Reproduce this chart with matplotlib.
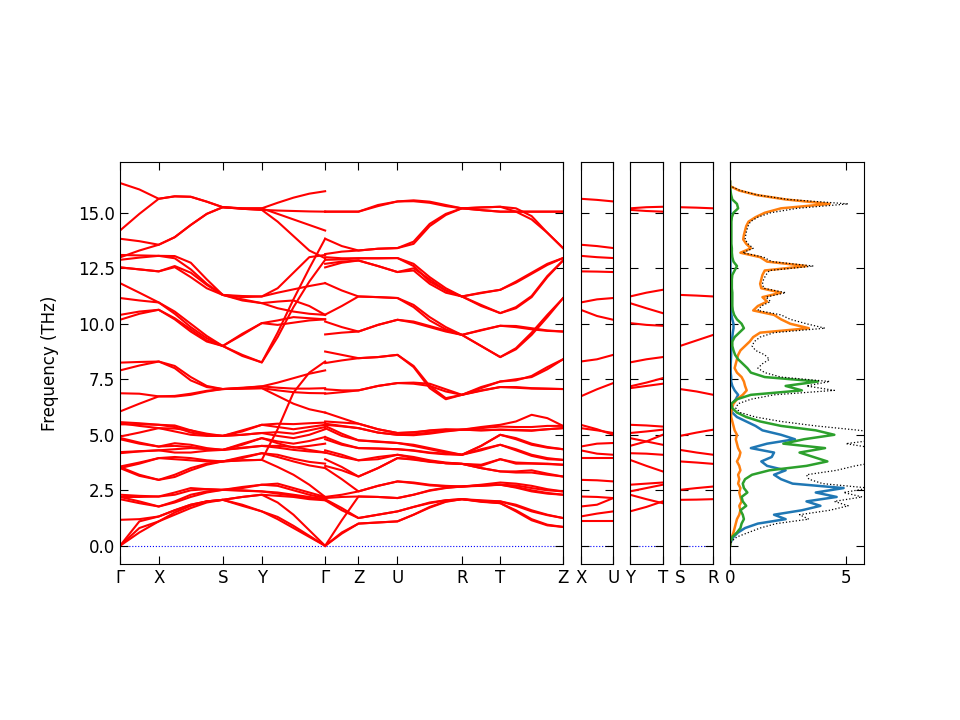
import numpy as np
import matplotlib
matplotlib.use("Agg")
import matplotlib.pyplot as plt
from matplotlib.ticker import MultipleLocator

# ---------------- path definition ----------------
MAIN_LABELS = ["Γ", "X", "S", "Y", "Γ", "Z", "U", "R", "T", "Z"]
LEFT_SEG_LENGTHS = [0.387, 0.640, 0.390, 0.633]          # Γ-X, X-S, S-Y, Y-Γ
LEFT_SEG_SAMPLES = [3, 5, 3, 5]
RIGHT_SEG_LENGTHS = [0.333, 0.390, 0.644, 0.383, 0.627]  # Γ-Z, Z-U, U-R, R-T, T-Z
RIGHT_SEG_SAMPLES = [3, 3, 5, 3, 5]
SMALL_PANELS = [("X", "U"), ("Y", "T"), ("S", "R")]
SMALL_LENGTH = 0.326

# ---------------- band frequencies (THz) ----------------
# Γ - X - S - Y - Γ  (13 samples)
BANDS_LEFT = [
    [16.34, 16.05, 15.63, 15.74, 15.72, 15.50, 15.25, 15.20, 15.20, 15.45, 15.68, 15.86, 15.97],
    [14.20, 14.95, 15.63, 15.74, 15.72, 15.50, 15.25, 15.18, 15.13, 15.10, 15.08, 15.06, 15.05],
    [13.83, 13.72, 13.56, 13.90, 14.45, 14.95, 15.25, 15.20, 15.20, 14.95, 14.70, 14.45, 14.20],
    [12.99, 13.30, 13.56, 13.90, 14.45, 14.95, 15.25, 15.18, 15.13, 14.60, 13.95, 13.30, 12.95],
    [13.10, 13.08, 13.06, 13.05, 12.75, 12.00, 11.30, 11.25, 11.23, 11.40, 11.55, 11.70, 11.83],
    [12.88, 12.98, 13.06, 12.95, 12.45, 11.80, 11.30, 11.20, 11.23, 11.60, 12.30, 13.00, 13.10],
    [12.54, 12.45, 12.36, 12.60, 12.30, 11.75, 11.30, 11.05, 10.93, 11.00, 11.05, 10.80, 10.40],
    [12.54, 12.45, 12.36, 12.55, 12.10, 11.60, 11.30, 11.10, 10.93, 10.70, 10.55, 10.45, 10.40],
    [11.83, 11.40, 10.96, 10.55, 10.00, 9.45, 9.00, 9.55, 10.03, 10.15, 10.30, 10.25, 10.20],
    [11.16, 11.05, 10.96, 10.45, 9.85, 9.35, 9.00, 9.50, 10.03, 9.95, 10.05, 10.15, 10.20],
    [10.40, 10.55, 10.63, 10.20, 9.65, 9.20, 9.00, 8.55, 8.26, 9.40, 10.75, 11.90, 12.88],
    [10.18, 10.45, 10.63, 10.25, 9.75, 9.25, 9.00, 8.60, 8.26, 9.60, 11.10, 12.50, 13.83],
    [8.25, 8.28, 8.30, 8.10, 7.60, 7.20, 7.06, 7.12, 7.18, 7.35, 7.55, 7.75, 7.90],
    [7.90, 8.12, 8.30, 8.00, 7.45, 7.15, 7.06, 7.10, 7.18, 7.12, 7.08, 7.08, 7.10],
    [6.87, 6.85, 6.73, 6.72, 6.80, 6.95, 7.06, 7.08, 7.10, 7.00, 6.92, 6.88, 6.87],
    [6.05, 6.40, 6.73, 6.75, 6.85, 6.98, 7.06, 7.08, 7.10, 6.75, 6.40, 6.15, 6.00],
    [5.57, 5.52, 5.45, 5.42, 5.20, 5.00, 4.95, 5.20, 5.45, 5.50, 5.48, 5.52, 5.55],
    [5.47, 5.47, 5.45, 5.35, 5.10, 4.98, 4.95, 5.15, 5.45, 5.35, 5.25, 5.35, 5.45],
    [5.52, 5.40, 5.30, 5.28, 5.20, 5.05, 4.95, 5.00, 5.08, 5.12, 5.05, 5.20, 5.35],
    [4.92, 5.10, 5.30, 5.15, 5.00, 4.95, 4.95, 5.00, 5.08, 4.95, 4.85, 5.00, 5.25],
    [4.80, 4.60, 4.47, 4.62, 4.55, 4.40, 4.32, 4.60, 4.85, 4.70, 4.60, 4.72, 4.90],
    [4.86, 4.65, 4.47, 4.50, 4.45, 4.35, 4.32, 4.55, 4.85, 4.62, 4.42, 4.50, 4.60],
    [4.17, 4.25, 4.30, 4.35, 4.40, 4.35, 4.32, 4.42, 4.50, 4.42, 4.32, 4.25, 4.20],
    [4.22, 4.26, 4.30, 4.20, 4.20, 4.28, 4.32, 4.40, 4.50, 4.50, 4.45, 4.32, 4.20],
    [3.57, 3.75, 3.95, 4.00, 3.95, 3.85, 3.80, 4.00, 4.17, 4.10, 3.92, 3.78, 3.70],
    [3.50, 3.70, 3.95, 3.90, 3.85, 3.80, 3.80, 3.95, 4.17, 4.00, 3.80, 3.62, 3.50],
    [3.55, 3.20, 2.97, 3.20, 3.50, 3.70, 3.80, 3.85, 3.87, 5.25, 6.90, 7.80, 8.30],
    [3.50, 3.15, 2.97, 3.10, 3.40, 3.65, 3.80, 3.85, 3.87, 3.55, 3.20, 2.75, 2.20],
    [2.30, 2.25, 2.22, 2.40, 2.60, 2.55, 2.52, 2.65, 2.75, 2.80, 2.60, 2.40, 2.20],
    [2.20, 2.20, 2.22, 2.30, 2.50, 2.55, 2.52, 2.60, 2.75, 2.70, 2.50, 2.30, 2.15],
    [2.20, 2.00, 1.77, 2.00, 2.30, 2.45, 2.52, 2.50, 2.45, 2.40, 2.30, 2.20, 2.10],
    [2.10, 1.92, 1.77, 1.95, 2.20, 2.40, 2.52, 2.48, 2.45, 2.35, 2.25, 2.15, 2.10],
    [1.17, 1.20, 1.32, 1.60, 1.85, 2.00, 2.07, 2.20, 2.30, 2.25, 2.20, 2.10, 2.05],
    [0.00, 1.10, 1.32, 1.60, 1.85, 2.00, 2.07, 2.20, 2.30, 1.95, 1.40, 0.70, 0.00],
    [0.00, 0.80, 1.10, 1.40, 1.70, 1.95, 2.07, 1.85, 1.55, 1.30, 0.90, 0.45, 0.00],
    [0.00, 0.60, 1.10, 1.50, 1.80, 2.00, 2.07, 1.80, 1.55, 1.20, 0.80, 0.40, 0.00],
]

# Γ - Z - U - R - T - Z  (15 samples)
BANDS_RIGHT = [
    [15.05, 15.05, 15.05, 15.35, 15.51, 15.56, 15.50, 15.35, 15.20, 15.24, 15.27, 15.05, 14.70, 14.10, 13.41],
    [15.05, 15.05, 15.05, 15.30, 15.51, 15.52, 15.45, 15.30, 15.20, 15.12, 15.05, 15.05, 15.05, 15.05, 15.05],
    [13.83, 13.50, 13.30, 13.38, 13.41, 13.70, 14.50, 14.95, 15.20, 15.24, 15.27, 15.20, 14.85, 14.10, 13.41],
    [13.14, 13.25, 13.30, 13.38, 13.41, 13.60, 14.40, 14.90, 15.20, 15.12, 15.05, 15.05, 15.05, 15.05, 15.05],
    [13.00, 12.95, 12.95, 12.95, 12.96, 12.70, 12.10, 11.60, 11.23, 11.38, 11.53, 11.85, 12.25, 12.65, 12.96],
    [12.88, 12.90, 12.95, 12.95, 12.96, 12.60, 11.90, 11.50, 11.23, 10.80, 10.48, 10.70, 11.20, 12.10, 12.85],
    [12.54, 12.75, 12.85, 12.60, 12.33, 12.50, 12.00, 11.50, 11.23, 10.85, 10.48, 10.75, 11.25, 12.15, 12.85],
    [12.70, 12.80, 12.85, 12.60, 12.33, 12.40, 11.80, 11.40, 11.23, 11.40, 11.53, 11.90, 12.30, 12.70, 12.96],
    [11.83, 11.50, 11.23, 11.20, 11.16, 10.85, 10.30, 9.85, 9.50, 9.00, 8.50, 8.85, 9.50, 10.30, 11.15],
    [10.41, 10.80, 11.23, 11.20, 11.16, 10.75, 10.15, 9.75, 9.50, 9.00, 8.50, 8.90, 9.60, 10.40, 11.15],
    [10.10, 9.85, 9.65, 9.95, 10.18, 10.05, 9.85, 9.65, 9.50, 9.70, 9.91, 9.85, 9.75, 9.68, 9.65],
    [9.52, 9.60, 9.65, 9.95, 10.18, 10.10, 9.90, 9.70, 9.50, 9.72, 9.91, 9.90, 9.80, 9.70, 9.65],
    [8.75, 8.60, 8.45, 8.50, 8.60, 8.10, 7.20, 6.65, 6.80, 7.10, 7.40, 7.50, 7.60, 7.95, 8.40],
    [8.23, 8.35, 8.45, 8.50, 8.60, 8.05, 7.10, 6.60, 6.80, 7.15, 7.40, 7.45, 7.65, 8.05, 8.40],
    [7.05, 7.00, 7.00, 7.20, 7.33, 7.35, 7.30, 7.05, 6.80, 7.00, 7.15, 7.12, 7.08, 7.07, 7.06],
    [6.85, 6.92, 7.00, 7.20, 7.33, 7.30, 7.20, 6.95, 6.80, 6.98, 7.15, 7.15, 7.10, 7.08, 7.06],
    [6.00, 5.75, 5.50, 5.25, 5.08, 5.10, 5.20, 5.25, 5.23, 5.35, 5.45, 5.60, 5.90, 5.75, 5.40],
    [5.60, 5.55, 5.50, 5.25, 5.08, 5.12, 5.18, 5.22, 5.23, 5.30, 5.37, 5.35, 5.35, 5.40, 5.40],
    [5.50, 5.40, 5.30, 5.10, 5.00, 4.98, 5.05, 5.15, 5.23, 5.20, 5.23, 5.20, 5.18, 5.25, 5.30],
    [5.45, 5.38, 5.30, 5.10, 5.00, 5.02, 5.10, 5.18, 5.23, 5.20, 5.23, 5.22, 5.20, 5.25, 5.30],
    [5.40, 5.05, 4.75, 4.70, 4.63, 4.55, 4.40, 4.25, 4.10, 4.50, 5.00, 4.85, 4.60, 4.45, 4.35],
    [5.30, 4.95, 4.75, 4.68, 4.63, 4.50, 4.35, 4.20, 4.10, 4.50, 5.00, 4.80, 4.55, 4.42, 4.35],
    [4.90, 4.60, 4.40, 4.38, 4.35, 4.30, 4.20, 4.15, 4.10, 4.30, 4.55, 4.30, 4.05, 3.90, 3.87],
    [4.80, 4.55, 4.40, 4.38, 4.35, 4.28, 4.18, 4.12, 4.10, 4.35, 4.55, 4.35, 4.10, 3.95, 3.87],
    [4.30, 4.10, 3.85, 4.00, 4.10, 4.00, 3.85, 3.75, 3.69, 3.60, 3.90, 3.70, 3.70, 3.68, 3.65],
    [4.20, 4.00, 3.85, 3.90, 4.10, 3.95, 3.82, 3.72, 3.69, 3.65, 3.90, 3.75, 3.72, 3.70, 3.65],
    [3.90, 3.55, 3.12, 3.50, 3.95, 3.90, 3.80, 3.72, 3.69, 3.50, 3.35, 3.35, 3.40, 3.25, 3.12],
    [3.60, 3.40, 3.12, 3.50, 3.95, 3.88, 3.78, 3.72, 3.69, 3.50, 3.35, 3.30, 3.30, 3.20, 3.12],
    [3.50, 3.00, 2.45, 2.70, 2.90, 2.85, 2.75, 2.70, 2.67, 2.75, 2.85, 2.80, 2.70, 2.55, 2.45],
    [2.20, 2.30, 2.45, 2.70, 2.90, 2.82, 2.72, 2.68, 2.67, 2.72, 2.75, 2.72, 2.60, 2.50, 2.45],
    [2.15, 2.20, 2.22, 2.20, 2.15, 2.30, 2.50, 2.62, 2.67, 2.72, 2.75, 2.65, 2.50, 2.38, 2.30],
    [2.10, 1.70, 1.25, 1.40, 1.55, 1.75, 1.92, 2.05, 2.10, 2.02, 2.00, 1.80, 1.55, 1.38, 1.25],
    [2.05, 1.60, 1.25, 1.40, 1.55, 1.75, 1.95, 2.05, 2.10, 2.05, 2.00, 1.85, 1.60, 1.40, 1.25],
    [0.00, 1.15, 2.22, 2.20, 2.15, 2.30, 2.48, 2.60, 2.67, 2.70, 2.75, 2.62, 2.45, 2.35, 2.30],
    [0.00, 0.60, 1.00, 1.05, 1.10, 1.40, 1.75, 2.00, 2.10, 2.00, 1.92, 1.60, 1.20, 0.95, 0.85],
    [0.00, 0.55, 1.00, 1.05, 1.10, 1.40, 1.72, 1.98, 2.10, 1.98, 1.92, 1.55, 1.15, 0.92, 0.85],
]

# X - U (start, middle, end)
BANDS_XU = [
    [15.63, 15.58, 15.51], [13.56, 13.50, 13.41], [13.06, 13.00, 12.96], [12.36, 12.35, 12.33],
    [10.96, 11.10, 11.16], [10.63, 10.35, 10.18], [8.30, 8.40, 8.60], [6.73, 7.05, 7.33],
    [5.45, 5.25, 5.00], [5.30, 5.20, 5.08], [4.47, 4.60, 4.63], [4.30, 4.15, 4.10],
    [3.95, 3.95, 3.95], [2.97, 2.95, 2.90], [2.22, 2.20, 2.15], [1.77, 1.85, 2.15],
    [1.32, 1.45, 1.55], [1.10, 1.10, 1.10],
]
# Y - T
BANDS_YT = [
    [15.20, 15.25, 15.27], [15.13, 15.08, 15.05], [11.23, 11.40, 11.53], [10.93, 10.70, 10.48],
    [10.03, 9.95, 9.91], [8.26, 8.40, 8.50], [7.18, 7.35, 7.55], [7.10, 7.20, 7.30],
    [5.45, 5.42, 5.37], [5.08, 5.15, 5.23], [4.85, 4.70, 4.55], [4.50, 4.70, 5.00],
    [4.17, 4.15, 4.10], [3.87, 3.60, 3.35], [2.75, 2.80, 2.85], [2.45, 2.60, 2.75],
    [2.30, 2.10, 1.92], [1.55, 1.75, 2.00],
]
# S - R
BANDS_SR = [
    [15.25, 15.23, 15.20], [11.30, 11.27, 11.23], [9.00, 9.25, 9.50], [7.06, 6.95, 6.80],
    [4.95, 5.10, 5.23], [4.32, 4.20, 4.10], [3.80, 3.75, 3.69], [2.52, 2.60, 2.67],
    [2.07, 2.08, 2.10],
]

# ---------------- DOS (states/THz) on 0.2 THz grid, 0.0 .. 16.4 ----------------
DOS_FREQ = np.round(np.arange(0.0, 16.41, 0.2), 2)
DOS_BLUE = [
    0.00, 0.05, 0.15, 0.35, 0.65, 1.20, 2.40, 1.90, 3.10, 3.90,
    3.30, 4.60, 3.70, 4.90, 2.70, 2.20, 1.90, 2.40, 1.60, 1.35,
    1.80, 1.90, 0.90, 1.60, 2.80, 2.20, 1.40, 1.10, 0.70, 0.30,
    0.10, 0.05, 0.10, 0.25, 0.35, 0.20, 0.10, 0.05, 0.05, 0.03,
    0.03, 0.03, 0.04, 0.05, 0.05, 0.06, 0.08, 0.10, 0.12, 0.15,
    0.15, 0.10, 0.06, 0.04, 0.03, 0.02, 0.02, 0.02, 0.02, 0.02,
    0.02, 0.02, 0.02, 0.02, 0.02, 0.02, 0.02, 0.02, 0.02, 0.02,
    0.02, 0.02, 0.02, 0.02, 0.02, 0.02, 0.02, 0.02, 0.02, 0.01,
    0.01, 0.00, 0.00,
]
DOS_GREEN = [
    0.00, 0.02, 0.10, 0.30, 0.45, 0.50, 0.60, 0.55, 0.45, 0.70,
    0.55, 0.50, 0.75, 0.60, 0.55, 0.65, 0.95, 1.70, 3.30, 4.20,
    3.60, 3.00, 4.10, 2.30, 3.20, 4.50, 3.70, 2.20, 1.30, 0.70,
    0.30, 0.10, 0.05, 0.30, 0.90, 3.10, 2.40, 3.80, 1.50, 0.90,
    0.75, 0.55, 0.35, 0.22, 0.15, 0.10, 0.10, 0.20, 0.40, 0.60,
    0.50, 0.30, 0.18, 0.12, 0.10, 0.10, 0.10, 0.10, 0.08, 0.08,
    0.08, 0.10, 0.20, 0.30, 0.15, 0.10, 0.08, 0.08, 0.06, 0.06,
    0.06, 0.06, 0.06, 0.06, 0.08, 0.15, 0.35, 0.30, 0.10, 0.05,
    0.02, 0.00, 0.00,
]
DOS_ORANGE = [
    0.00, 0.02, 0.08, 0.15, 0.20, 0.25, 0.30, 0.40, 0.45, 0.40,
    0.50, 0.45, 0.40, 0.45, 0.35, 0.40, 0.35, 0.45, 0.40, 0.30,
    0.40, 0.45, 0.35, 0.30, 0.25, 0.30, 0.20, 0.15, 0.10, 0.05,
    0.05, 0.08, 0.15, 0.30, 0.55, 0.72, 0.65, 0.60, 0.50, 0.30,
    0.20, 0.25, 0.30, 0.35, 0.45, 0.65, 0.85, 1.00, 1.30, 3.40,
    2.60, 2.20, 1.90, 1.00, 1.20, 1.60, 1.40, 2.20, 1.35, 1.30,
    1.35, 1.40, 1.50, 3.30, 1.60, 1.30, 0.45, 0.90, 0.70, 0.57,
    0.60, 0.65, 0.70, 0.80, 1.10, 1.50, 2.20, 4.30, 2.40, 1.15,
    0.40, 0.00, 0.00,
]
DOS_TOTAL = [
    0.00, 0.07, 0.30, 0.80, 1.30, 2.00, 3.40, 3.00, 4.30, 5.10,
    4.50, 5.70, 4.90, 6.00, 4.00, 3.40, 3.30, 4.60, 5.40, 6.50,
    6.00, 5.80, 6.20, 5.00, 6.50, 7.00, 5.60, 3.70, 2.20, 1.10,
    0.45, 0.25, 0.35, 0.90, 1.90, 4.50, 3.30, 4.30, 2.20, 1.50,
    1.20, 1.40, 1.70, 1.50, 1.10, 0.95, 1.05, 1.30, 1.90, 4.10,
    3.30, 2.60, 2.20, 1.20, 1.35, 1.75, 1.55, 2.40, 1.45, 1.40,
    1.45, 1.55, 1.70, 3.60, 1.80, 1.45, 0.55, 1.00, 0.78, 0.65,
    0.68, 0.72, 0.78, 0.88, 1.20, 1.75, 2.90, 5.10, 2.50, 1.20,
    0.45, 0.02, 0.00,
]

# ---------------- helpers ----------------
def sample_columns(start, lengths, samples):
    xs = [start]
    pos = start
    for L, n in zip(lengths, samples):
        xs.extend(np.linspace(pos, pos + L, n)[1:])
        pos += L
    return np.array(xs)

YLIM = (-0.82, 17.30)
BAND_COLOR = "red"
BAND_LW = 1.5

def style_axis(ax, show_ylabels):
    ax.set_ylim(*YLIM)
    ax.yaxis.set_major_locator(MultipleLocator(2.5))
    ax.tick_params(axis="both", direction="in", top=True, right=True,
                   length=6, labelsize=12)
    if not show_ylabels:
        ax.tick_params(axis="y", labelleft=False)

# ---------------- figure ----------------
fig = plt.figure(figsize=(9.6, 7.2), dpi=100)
bottom = 156 / 720
height = (564 - 161.7) / 720

ax_main = fig.add_axes([120 / 960, bottom, 443 / 960, height])
ax_xu = fig.add_axes([580.7 / 960, bottom, 32.6 / 960, height])
ax_yt = fig.add_axes([630.0 / 960, bottom, 32.7 / 960, height])
ax_sr = fig.add_axes([680.0 / 960, bottom, 33.3 / 960, height])
ax_dos = fig.add_axes([730.0 / 960, bottom, 134 / 960, height])

# main panel
x_left = sample_columns(0.0, LEFT_SEG_LENGTHS, LEFT_SEG_SAMPLES)
x_right = sample_columns(sum(LEFT_SEG_LENGTHS), RIGHT_SEG_LENGTHS, RIGHT_SEG_SAMPLES)
seg_all = LEFT_SEG_LENGTHS + RIGHT_SEG_LENGTHS
tick_pos = np.concatenate([[0.0], np.cumsum(seg_all)])
total_len = tick_pos[-1]

ax_main.plot([0, total_len], [0, 0], color="blue", lw=0.8, ls=":", zorder=1)
for row in BANDS_LEFT:
    ax_main.plot(x_left, row, color=BAND_COLOR, lw=BAND_LW, zorder=2)
for row in BANDS_RIGHT:
    ax_main.plot(x_right, row, color=BAND_COLOR, lw=BAND_LW, zorder=2)
ax_main.set_xlim(0, total_len)
ax_main.set_xticks(tick_pos)
ax_main.set_xticklabels(MAIN_LABELS)
style_axis(ax_main, True)
ax_main.set_ylabel("Frequency (THz)", fontsize=12, labelpad=14)

# small panels
for ax, (lab0, lab1), bands in zip([ax_xu, ax_yt, ax_sr], SMALL_PANELS,
                                   [BANDS_XU, BANDS_YT, BANDS_SR]):
    xs = np.linspace(0, SMALL_LENGTH, 3)
    ax.plot([0, SMALL_LENGTH], [0, 0], color="blue", lw=0.8, ls=":", zorder=1)
    for row in bands:
        ax.plot(xs, row, color=BAND_COLOR, lw=BAND_LW, zorder=2)
    ax.set_xlim(0, SMALL_LENGTH)
    ax.set_xticks([0, SMALL_LENGTH])
    ax.set_xticklabels([lab0, lab1])
    style_axis(ax, False)

# DOS panel
ax_dos.plot(DOS_BLUE, DOS_FREQ, color="tab:blue", lw=1.8)
ax_dos.plot(DOS_ORANGE, DOS_FREQ, color="tab:orange", lw=1.8)
ax_dos.plot(DOS_GREEN, DOS_FREQ, color="tab:green", lw=1.8)
ax_dos.plot(DOS_TOTAL, DOS_FREQ, color="black", lw=0.9, ls=":")
ax_dos.set_xlim(0, 5.78)
ax_dos.set_xticks([0, 5])
ax_dos.set_xticklabels(["0", "5"])
style_axis(ax_dos, False)

fig.savefig("out.png", dpi=100)
